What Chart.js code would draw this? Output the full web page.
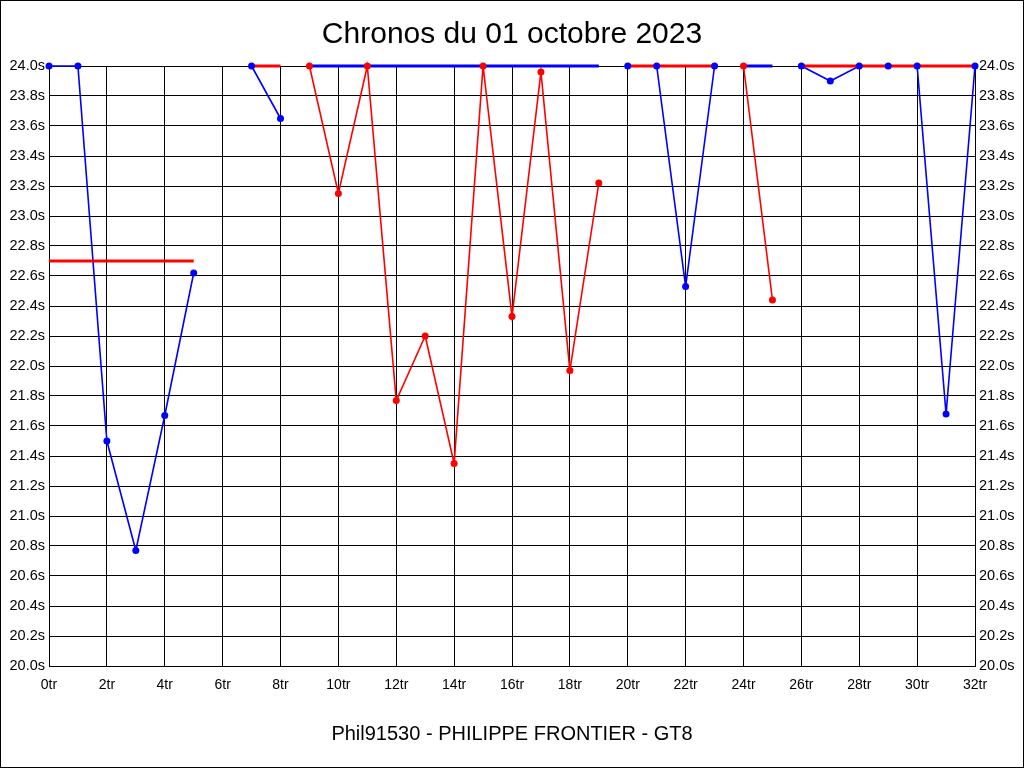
<!DOCTYPE html>
<html>
<head>
<meta charset="utf-8">
<script src="https://cdn.jsdelivr.net/npm/chart.js@4/dist/chart.umd.min.js"></script>
<style>
  html, body { margin: 0; padding: 0; background: #fff; }
  #wrap { width: 1024px; height: 768px; }
</style>
</head>
<body>
<div id="wrap"><canvas id="c" width="1024" height="768"></canvas></div>
<script>
// ---- Data (lap index -> lap time in seconds; null = not part of that run) ----
const laps = [0,1,2,3,4,5,6,7,8,9,10,11,12,13,14,15,16,17,18,19,20,21,22,23,24,25,26,27,28,29,30,31,32];

const blueTimes = [24.0, 24.0, 21.50, 20.77, 21.67, 22.62, null, 24.0, 23.65,
  null, null, null, null, null, null, null, null, null, null, null,
  24.0, 24.0, 22.53, 24.0, null, null,
  24.0, 23.90, 24.0, 24.0, 24.0, 21.68, 24.0];

const redTimes = [null, null, null, null, null, null, null, null, null,
  24.0, 23.15, 24.0, 21.77, 22.20, 21.35, 24.0, 22.33, 23.96, 21.97, 23.22,
  null, null, null, null, 24.0, 22.44,
  null, null, null, null, null, null, null];

const redRef = [22.70, 22.70, 22.70, 22.70, 22.70, 22.70, null, 24.0, 24.0,
  null, null, null, null, null, null, null, null, null, null, null,
  24.0, 24.0, 24.0, 24.0, null, null,
  24.0, 24.0, 24.0, 24.0, 24.0, 24.0, 24.0];

const blueRef = [null, null, null, null, null, null, null, null, null,
  24.0, 24.0, 24.0, 24.0, 24.0, 24.0, 24.0, 24.0, 24.0, 24.0, 24.0,
  null, null, null, null, 24.0, 24.0,
  null, null, null, null, null, null, null];

const titleText = 'Chronos du 01 octobre 2023';
const footerText = 'Phil91530 - PHILIPPE FRONTIER - GT8';
const yMin = 20.0, yMax = 24.0, yStep = 0.2;
const xMin = 0, xMax = 32, xStep = 2;

const BLUE = '#0000FF', RED = '#FF0000';
const FONT = "'Liberation Sans', Arial, sans-serif";

function pts(arr) { return laps.map((l, i) => ({ x: l, y: arr[i] })); }

const frame = {
  id: 'frame',
  beforeDraw(chart) {
    const ctx = chart.ctx;
    ctx.save();
    ctx.fillStyle = '#fff';
    ctx.fillRect(0, 0, chart.width, chart.height);
    ctx.restore();
  },
  afterDraw(chart) {
    const ctx = chart.ctx;
    ctx.save();
    ctx.strokeStyle = '#000';
    ctx.lineWidth = 1;
    ctx.strokeRect(0.5, 0.5, chart.width - 1, chart.height - 1);
    ctx.restore();
  }
};

const lineDs = (arr, color, w) => ({
  data: pts(arr), borderColor: color, borderWidth: w, pointRadius: 0,
  spanGaps: false, fill: false, tension: 0, clip: false, xAxisID: 'x', yAxisID: 'y'
});
const pointDs = (arr, color) => ({
  data: pts(arr), showLine: false, pointRadius: 3.5, pointBorderWidth: 0,
  pointBackgroundColor: color, borderColor: color, clip: false, xAxisID: 'x', yAxisID: 'y'
});

const yTicks = {
  stepSize: yStep, maxTicksLimit: 50, autoSkip: false, color: '#000',
  font: { family: FONT, size: 14.5 }, padding: 4,
  callback: v => Number(v).toFixed(1) + 's'
};

new Chart(document.getElementById('c'), {
  type: 'line',
  data: {
    datasets: [
      pointDs(blueTimes, BLUE),
      pointDs(redTimes, RED),
      lineDs(redRef, RED, 3),
      lineDs(blueRef, BLUE, 3),
      lineDs(blueTimes, BLUE, 1.6),
      lineDs(redTimes, RED, 1.6)
    ]
  },
  plugins: [frame],
  options: {
    responsive: false,
    animation: false,
    devicePixelRatio: 1,
    layout: { padding: 0 },
    plugins: {
      legend: { display: false },
      tooltip: { enabled: false },
      title: {
        display: true, text: titleText, color: '#000',
        font: { family: FONT, size: 30, weight: 'normal', lineHeight: 1.2 },
        padding: { top: 17, bottom: 13 }
      },
      subtitle: {
        display: true, position: 'bottom', text: footerText, color: '#000',
        font: { family: FONT, size: 20, weight: 'normal', lineHeight: 1.2 },
        padding: { top: 0, bottom: 22 }
      }
    },
    scales: {
      x: {
        type: 'linear', position: 'bottom', min: xMin, max: xMax,
        ticks: {
          stepSize: xStep, color: '#000', autoSkip: false, maxRotation: 0,
          font: { family: FONT, size: 14 }, padding: 11,
          callback: v => v + 'tr'
        },
        grid: { color: '#000', lineWidth: 1, drawTicks: false },
        border: { color: '#000', width: 1 },
        afterFit: s => { s.height = 56; }
      },
      y: {
        type: 'linear', position: 'left', min: yMin, max: yMax,
        ticks: yTicks,
        grid: { color: '#000', lineWidth: 1, drawTicks: false },
        border: { color: '#000', width: 1 },
        afterFit: s => { s.width = 49; }
      },
      y2: {
        type: 'linear', position: 'right', min: yMin, max: yMax,
        ticks: yTicks,
        grid: { display: false, drawTicks: false },
        border: { color: '#000', width: 1 },
        afterFit: s => { s.width = 49; }
      }
    }
  }
});
</script>
</body>
</html>
